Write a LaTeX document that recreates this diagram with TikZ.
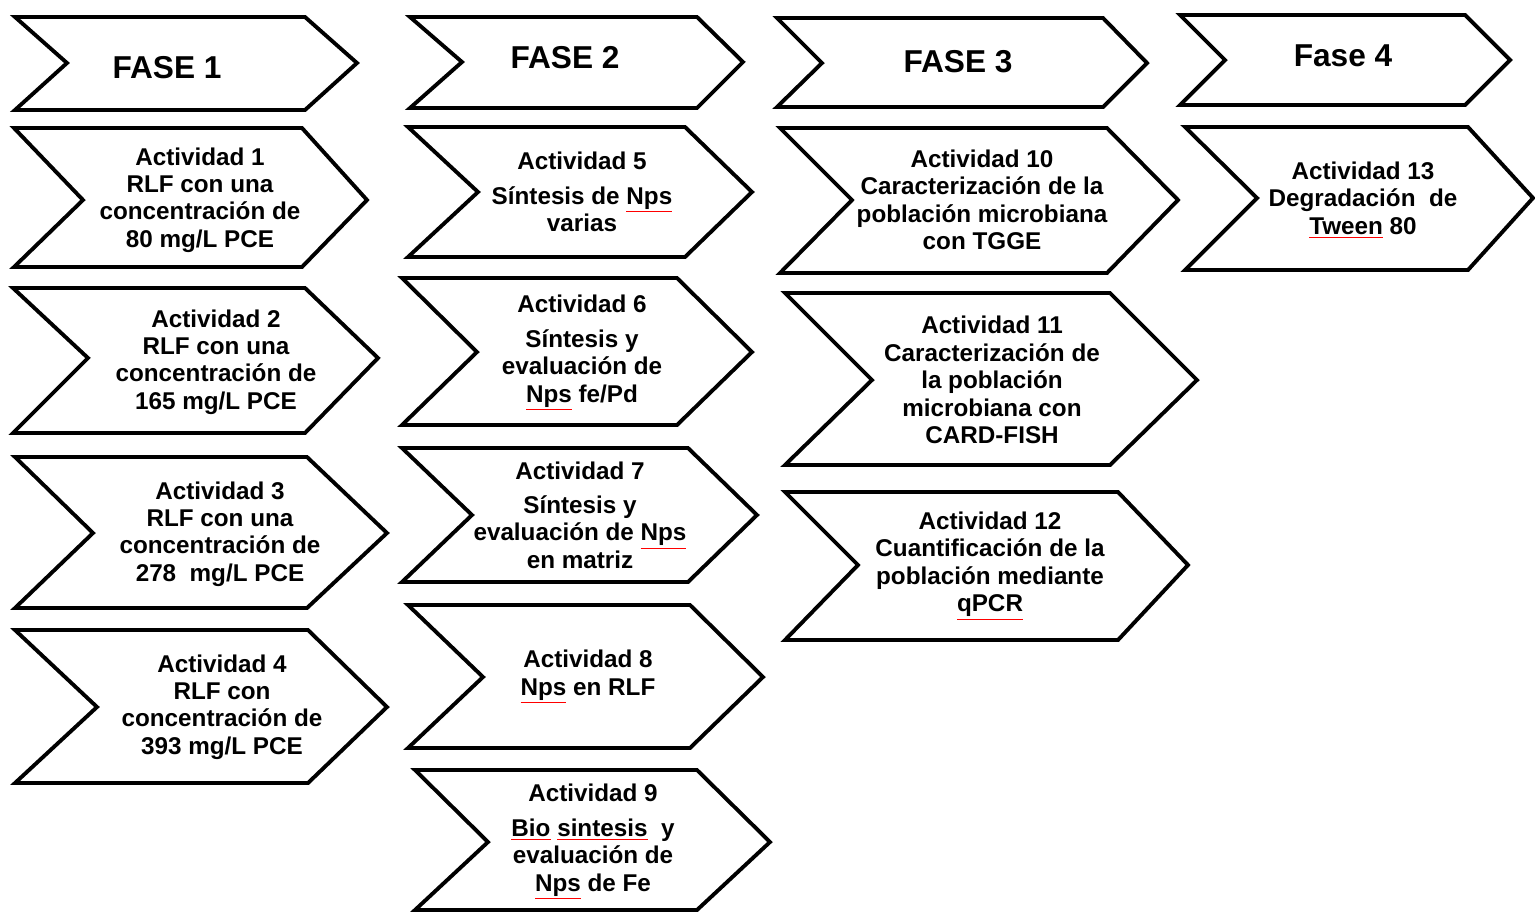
\documentclass[tikz,border=0pt]{standalone}
\usepackage{fontspec}
\setmainfont{Liberation Sans}
\usepackage{tikz}

\newcommand{\spell}[1]{\textcolor{red}{\underline{\textcolor{black}{#1}}}}

\tikzset{
  chev/.style={draw=black, line width=2.2pt, line join=miter},
  fase/.style={font=\bfseries\fontsize{18}{21}\selectfont},
  acti/.style={align=center, inner sep=0pt, font=\bfseries\fontsize{13.8}{15.6}\selectfont}
}

\begin{document}
\begin{tikzpicture}[x=0.2mm, y=-0.2mm]
  \useasboundingbox (0,0) rectangle (1535,913);

% fase 1
\draw[chev] (15,17)--(305,17)--(357,63)--(305,110)--(15,110)--(67,63)--cycle;
\draw[chev] (14,128)--(302,128)--(367,200)--(302,267)--(14,267)--(83,200)--cycle;
\draw[chev] (13,288)--(305,288)--(378,358)--(305,433)--(13,433)--(88,358)--cycle;
\draw[chev] (15,457)--(307,457)--(387,533)--(307,608)--(15,608)--(93,533)--cycle;
\draw[chev] (15,630)--(308,630)--(387,707)--(308,783)--(15,783)--(97,707)--cycle;

\node[fase] (f1) at (167,68) {FASE 1};
\node[acti] (a1) at (200,200) {Actividad 1\\RLF con una\\concentración de\\80 mg/L PCE};
\node[acti] (a2) at (216,362) {Actividad 2\\RLF con una\\concentración de\\165 mg/L PCE};
\node[acti] (a3) at (220,534) {Actividad 3\\RLF con una\\concentración de\\278~~mg/L PCE};
\node[acti] (a4) at (222,707) {Actividad 4\\RLF con\\concentración de\\393 mg/L PCE};

% fase 2
\draw[chev] (410,17)--(697,17)--(743,62)--(697,108)--(410,108)--(462,62)--cycle;
\draw[chev] (408,127)--(685,127)--(752,192)--(685,257)--(408,257)--(478,192)--cycle;
\draw[chev] (402,278)--(677,278)--(752,352)--(677,425)--(402,425)--(477,352)--cycle;
\draw[chev] (402,448)--(688,448)--(757,515)--(688,582)--(402,582)--(472,515)--cycle;
\draw[chev] (408,605)--(690,605)--(763,677)--(690,748)--(408,748)--(483,677)--cycle;
\draw[chev] (415,770)--(697,770)--(770,842)--(697,910)--(415,910)--(488,842)--cycle;

\node[fase] (f2) at (565,58) {FASE 2};
\node[acti] (a5) at (582,192) {Actividad 5\\[4pt]Síntesis de \spell{Nps}\\varias};
\node[acti] (a6) at (582,353) {Actividad 6\\[4pt]Síntesis y\\evaluación de\\\spell{Nps} fe/Pd};
\node[acti] (a7) at (580,515) {Actividad 7\\[4pt]Síntesis y\\evaluación de \spell{Nps}\\en matriz};
\node[acti] (a8) at (588,677) {Actividad 8\\\spell{Nps} en RLF};
\node[acti] (a9) at (593,842) {Actividad 9\\[4pt]\spell{Bio} \spell{sintesis}~ y\\evaluación de\\\spell{Nps} de Fe};

% fase 3
\draw[chev] (777,18)--(1103,18)--(1147,63)--(1103,107)--(777,107)--(822,63)--cycle;
\draw[chev] (780,128)--(1107,128)--(1178,200)--(1107,273)--(780,273)--(852,200)--cycle;
\draw[chev] (785,293)--(1110,293)--(1197,380)--(1110,465)--(785,465)--(872,380)--cycle;
\draw[chev] (785,492)--(1118,492)--(1188,565)--(1118,640)--(785,640)--(858,565)--cycle;

\node[fase] (f3) at (958,62) {FASE 3};
\node[acti] (a10) at (982,200) {Actividad 10\\Caracterización de la\\población microbiana\\con TGGE};
\node[acti] (a11) at (992,380) {Actividad 11\\Caracterización de\\la población\\microbiana con\\CARD-FISH};
\node[acti] (a12) at (990,566) {Actividad 12\\Cuantificación de la\\población mediante\\\spell{qPCR}};

% fase 4
\draw[chev] (1180,15)--(1465,15)--(1510,60)--(1465,105)--(1180,105)--(1225,60)--cycle;
\draw[chev] (1185,127)--(1468,127)--(1533,198)--(1468,270)--(1185,270)--(1257,198)--cycle;

\node[fase] (f4) at (1343,56) {Fase 4};
\node[acti] (a13) at (1363,200) {Actividad 13\\Degradación~ de\\\spell{Tween} 80};

\end{tikzpicture}
\end{document}
